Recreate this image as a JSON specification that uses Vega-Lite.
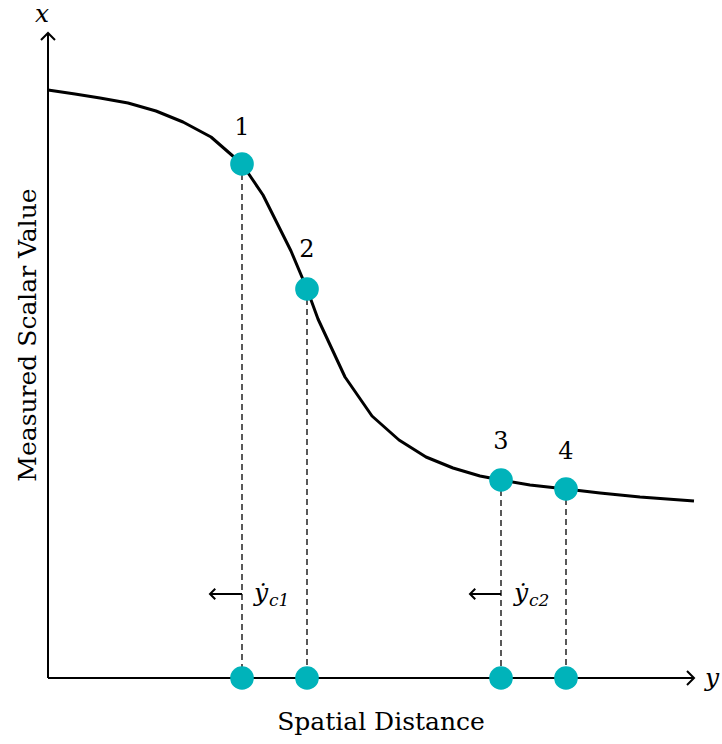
{
  "$schema": "https://vega.github.io/schema/vega-lite/v6.json",
  "width": 722,
  "height": 744,
  "autosize": "none",
  "padding": 0,
  "background": "white",
  "config": {"view": {"stroke": null}},
  "datasets": {
    "curve": [
      {"d": 0, "v": 588}, {"d": 27, "v": 584}, {"d": 52, "v": 580}, {"d": 80, "v": 575},
      {"d": 108, "v": 567}, {"d": 135, "v": 556}, {"d": 163, "v": 541}, {"d": 194, "v": 514},
      {"d": 215, "v": 483}, {"d": 243, "v": 427}, {"d": 259, "v": 389}, {"d": 270, "v": 359},
      {"d": 297, "v": 301}, {"d": 324, "v": 262}, {"d": 351, "v": 238}, {"d": 378, "v": 221},
      {"d": 405, "v": 210}, {"d": 432, "v": 202}, {"d": 453, "v": 198}, {"d": 482, "v": 193},
      {"d": 518, "v": 189}, {"d": 552, "v": 185}, {"d": 592, "v": 181}, {"d": 646, "v": 177}
    ],
    "samples": [
      {"id": "1", "d": 194, "v": 514, "lv": 550},
      {"id": "2", "d": 259, "v": 389, "lv": 428},
      {"id": "3", "d": 453, "v": 198, "lv": 236},
      {"id": "4", "d": 518, "v": 189, "lv": 226}
    ],
    "axes": [
      {"d": 0, "v": 0, "d2": 646, "v2": 0},
      {"d": 0, "v": 0, "d2": 0, "v2": 645}
    ],
    "arrows": [
      {"d": 162, "d2": 194, "v": 84, "lab": "c1"},
      {"d": 422, "d2": 453, "v": 84, "lab": "c2"}
    ]
  },
  "layer": [
    {
      "data": {"name": "axes"},
      "mark": {"type": "rule", "stroke": "black", "strokeWidth": 2},
      "encoding": {
        "x": {"field": "d", "type": "quantitative", "scale": {"domain": [-48, 674], "nice": false, "zero": false}, "axis": null},
        "y": {"field": "v", "type": "quantitative", "scale": {"domain": [-66, 678], "nice": false, "zero": false}, "axis": null},
        "x2": {"field": "d2"},
        "y2": {"field": "v2"}
      }
    },
    {
      "data": {"values": [{"d": 0, "v": 645}]},
      "mark": {"type": "point", "shape": "M-1,1L0,0L1,1", "size": 196, "filled": false, "stroke": "black", "strokeWidth": 2, "opacity": 1},
      "encoding": {
        "x": {"field": "d", "type": "quantitative"},
        "y": {"field": "v", "type": "quantitative"}
      }
    },
    {
      "data": {"values": [{"d": 646, "v": 0}]},
      "mark": {"type": "point", "shape": "M-1,-1L0,0L-1,1", "size": 196, "filled": false, "stroke": "black", "strokeWidth": 2, "opacity": 1},
      "encoding": {
        "x": {"field": "d", "type": "quantitative"},
        "y": {"field": "v", "type": "quantitative"}
      }
    },
    {
      "data": {"name": "curve"},
      "mark": {"type": "line", "stroke": "black", "strokeWidth": 3, "interpolate": "linear", "strokeJoin": "round"},
      "encoding": {
        "x": {"field": "d", "type": "quantitative"},
        "y": {"field": "v", "type": "quantitative"}
      }
    },
    {
      "data": {"name": "samples"},
      "mark": {"type": "rule", "stroke": "black", "strokeWidth": 1.3, "strokeDash": [6, 4]},
      "encoding": {
        "x": {"field": "d", "type": "quantitative"},
        "y": {"field": "v", "type": "quantitative"},
        "y2": {"datum": 0}
      }
    },
    {
      "data": {"name": "arrows"},
      "mark": {"type": "rule", "stroke": "black", "strokeWidth": 2},
      "encoding": {
        "x": {"field": "d", "type": "quantitative"},
        "x2": {"field": "d2"},
        "y": {"field": "v", "type": "quantitative"}
      }
    },
    {
      "data": {"name": "arrows"},
      "mark": {"type": "point", "shape": "M1,-1L0,0L1,1", "size": 110, "filled": false, "stroke": "black", "strokeWidth": 2, "opacity": 1},
      "encoding": {
        "x": {"field": "d", "type": "quantitative"},
        "y": {"field": "v", "type": "quantitative"}
      }
    },
    {
      "data": {"name": "arrows"},
      "mark": {"type": "text", "text": "ẏ", "font": "DejaVu Serif", "fontStyle": "italic", "fontSize": 25, "align": "left", "baseline": "middle", "dx": 44, "dy": -1},
      "encoding": {
        "x": {"field": "d", "type": "quantitative"},
        "y": {"field": "v", "type": "quantitative"}
      }
    },
    {
      "data": {"name": "arrows"},
      "mark": {"type": "text", "font": "DejaVu Serif", "fontStyle": "italic", "fontSize": 17, "align": "left", "baseline": "middle", "dx": 59, "dy": 7},
      "encoding": {
        "x": {"field": "d", "type": "quantitative"},
        "y": {"field": "v", "type": "quantitative"},
        "text": {"field": "lab"}
      }
    },
    {
      "data": {"name": "samples"},
      "mark": {"type": "circle", "size": 560, "color": "#00B3BA", "opacity": 1},
      "encoding": {
        "x": {"field": "d", "type": "quantitative"},
        "y": {"field": "v", "type": "quantitative"}
      }
    },
    {
      "data": {"name": "samples"},
      "mark": {"type": "circle", "size": 560, "color": "#00B3BA", "opacity": 1},
      "encoding": {
        "x": {"field": "d", "type": "quantitative"},
        "y": {"datum": 0, "type": "quantitative"}
      }
    },
    {
      "data": {"name": "samples"},
      "mark": {"type": "text", "font": "DejaVu Serif", "fontSize": 24, "align": "center", "baseline": "middle"},
      "encoding": {
        "x": {"field": "d", "type": "quantitative"},
        "y": {"field": "lv", "type": "quantitative"},
        "text": {"field": "id"}
      }
    },
    {
      "data": {"values": [
        {"d": -6, "v": 664, "t": "x"},
        {"d": 664, "v": 0, "t": "y"}
      ]},
      "mark": {"type": "text", "font": "DejaVu Serif", "fontStyle": "italic", "fontSize": 25, "align": "center", "baseline": "middle"},
      "encoding": {
        "x": {"field": "d", "type": "quantitative"},
        "y": {"field": "v", "type": "quantitative"},
        "text": {"field": "t"}
      }
    },
    {
      "data": {"values": [{"d": 333, "v": -44, "t": "Spatial Distance"}]},
      "mark": {"type": "text", "font": "DejaVu Serif", "fontSize": 25, "align": "center", "baseline": "middle"},
      "encoding": {
        "x": {"field": "d", "type": "quantitative"},
        "y": {"field": "v", "type": "quantitative"},
        "text": {"field": "t"}
      }
    },
    {
      "data": {"values": [{"d": -20, "v": 343, "t": "Measured Scalar Value"}]},
      "mark": {"type": "text", "font": "DejaVu Serif", "fontSize": 25, "align": "center", "baseline": "middle", "angle": 270},
      "encoding": {
        "x": {"field": "d", "type": "quantitative"},
        "y": {"field": "v", "type": "quantitative"},
        "text": {"field": "t"}
      }
    }
  ]
}
